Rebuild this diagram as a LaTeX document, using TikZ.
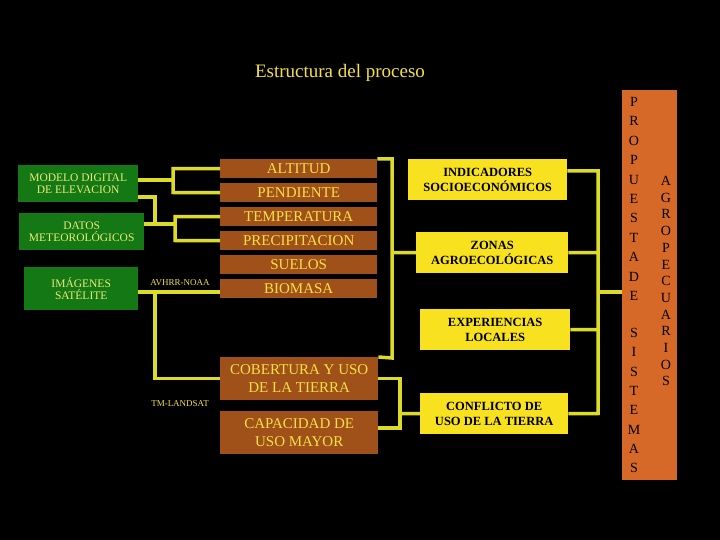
\documentclass[tikz,border=0pt]{standalone}
\usepackage{fontspec}
\setmainfont{Liberation Serif}
\begin{document}
\begin{tikzpicture}[x=1pt,y=-1pt,
  ln/.style={draw=lny,line width=3.5pt},
  gbox/.style={fill=gfill,text=gtxt,font=\fontsize{11.5}{12.5}\selectfont,align=center,inner sep=0pt,anchor=north west},
  bbox/.style={fill=bfill,text=btxt,font=\fontsize{15}{18}\selectfont,align=center,inner sep=0pt,anchor=north west},
  ybox/.style={fill=yfill,text=black,font=\bfseries\fontsize{12.5}{15}\selectfont,align=center,inner sep=0pt,anchor=north west},
  lab/.style={text=btxt,font=\fontsize{9}{10}\selectfont,inner sep=0pt},
  let/.style={font=\fontsize{14}{14}\selectfont,text=black,inner sep=0pt}]
\definecolor{gfill}{RGB}{20,120,20}
\definecolor{gtxt}{RGB}{235,235,120}
\definecolor{bfill}{RGB}{160,80,25}
\definecolor{btxt}{RGB}{245,225,70}
\definecolor{yfill}{RGB}{248,225,30}
\definecolor{ofill}{RGB}{215,105,40}
\definecolor{lny}{RGB}{220,220,40}
\fill[black] (0,0) rectangle (720,540);
\useasboundingbox (0,0) rectangle (720,540);
\node[text=btxt,font=\fontsize{19}{20}\selectfont] (title) at (340,73) {Estructura del proceso};
% green
\node[gbox,minimum width=120,minimum height=37] (mde) at (18,165) {MODELO DIGITAL\\DE ELEVACION};
\node[gbox,minimum width=125,minimum height=37] (dm) at (19,213) {DATOS\\METEOROLÓGICOS};
\node[gbox,minimum width=114,minimum height=43] (img) at (24,267) {IMÁGENES\\SATÉLITE};
% brown
\foreach \n/\t/\y in {alt/ALTITUD/159,pen/PENDIENTE/183,tem/TEMPERATURA/207,pre/PRECIPITACION/231,sue/SUELOS/255,bio/BIOMASA/279}
  \node[bbox,minimum width=157,minimum height=19] (\n) at (220,\y) {\t};
\node[bbox,minimum width=158,minimum height=43] (cob) at (220,357) {COBERTURA Y USO\\DE LA TIERRA};
\node[bbox,minimum width=158,minimum height=43] (cap) at (220,411) {CAPACIDAD DE\\USO MAYOR};
% yellow
\node[ybox,minimum width=159,minimum height=41] (ind) at (408,159) {INDICADORES\\SOCIOECONÓMICOS};
\node[ybox,minimum width=152,minimum height=41] (zon) at (416,232) {ZONAS\\AGROECOLÓGICAS};
\node[ybox,minimum width=150,minimum height=41] (exp) at (420,309) {EXPERIENCIAS\\LOCALES};
\node[ybox,minimum width=148,minimum height=41] (con) at (420,393) {CONFLICTO DE\\USO DE LA TIERRA};
% orange bar
\node[fill=ofill,minimum width=55,minimum height=390,inner sep=0pt,anchor=north west] (bar) at (622,90) {};
\foreach \c [count=\i from 0] in {P,R,O,P,U,E,S,T,A,D,E}
  \node[let] at (634,102+19.4*\i) {\c};
\foreach \c [count=\i from 0] in {S,I,S,T,E,M,A,S}
  \node[let] at (634,333+19.3*\i) {\c};
\foreach \c [count=\i from 0] in {A,G,R,O,P,E,C,U,A,R,I,O,S}
  \node[let] at (666,181+16.7*\i) {\c};
% labels
\node[lab] (avh) at (180,283) {AVHRR-NOAA};
\node[lab] (tml) at (180,404) {TM-LANDSAT};
% connectors
\draw[ln] (mde.east |- 0,180) -- (173,180);
\draw[ln] (alt.west) -| (173,192.5) -- (pen.west);
\draw[ln] (mde.east |- 0,197) -| (155,224);
\draw[ln] (dm.east |- 0,224) -- (175,224);
\draw[ln] (tem.west) -| (175,240.5) -- (pre.west);
\draw[ln] (img.east |- 0,292) -- (bio.west |- 0,292);
\draw[ln] (155,292) |- (cob.west);
\draw[ln] (alt.north east) -| (392,358) -- (cob.north east);
\draw[ln] (392,252.5) -- (zon.west);
\draw[ln] (cob.east) -| (400,428) -- (cap.east |- 0,428);
\draw[ln] (400,413.5) -- (con.west);
\draw[ln] (ind.east |- 0,171) -| (598,413.5) -- (con.east);
\draw[ln] (zon.east) -- (598,252.5);
\draw[ln] (exp.east) -- (598,329.5);
\draw[ln] (598,292) -- (bar.west |- 0,292);
\end{tikzpicture}
\end{document}
